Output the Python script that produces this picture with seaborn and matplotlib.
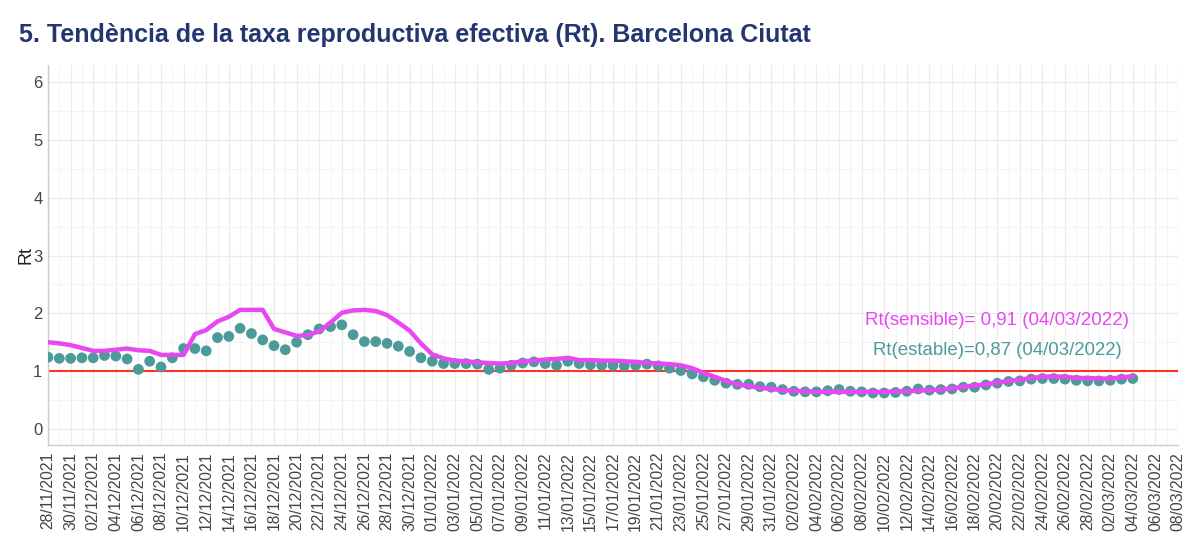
import numpy as np
import pandas as pd
import matplotlib
matplotlib.use("Agg")
import matplotlib.pyplot as plt
import matplotlib.dates as mdates
import seaborn as sns

start_date = "2021-11-28"
rt_estable = [1.24, 1.22, 1.22, 1.23, 1.23, 1.27, 1.26, 1.21, 1.03, 1.17,
              1.07, 1.23, 1.39, 1.39, 1.35, 1.58, 1.60, 1.74, 1.65, 1.54,
              1.44, 1.37, 1.50, 1.63, 1.73, 1.77, 1.80, 1.63, 1.51, 1.51,
              1.48, 1.43, 1.34, 1.23, 1.17, 1.13, 1.13, 1.13, 1.12, 1.03,
              1.05, 1.10, 1.14, 1.16, 1.13, 1.10, 1.17, 1.13, 1.11, 1.10,
              1.10, 1.09, 1.10, 1.12, 1.09, 1.05, 1.01, 0.95, 0.90, 0.84,
              0.79, 0.77, 0.77, 0.73, 0.72, 0.68, 0.65, 0.64, 0.64, 0.66,
              0.68, 0.65, 0.64, 0.62, 0.62, 0.63, 0.65, 0.69, 0.67, 0.68,
              0.69, 0.72, 0.72, 0.76, 0.79, 0.82, 0.83, 0.86, 0.87, 0.87,
              0.86, 0.84, 0.83, 0.83, 0.84, 0.86, 0.87]
rt_sensible = [1.50, 1.48, 1.45, 1.40, 1.35, 1.35, 1.37, 1.39, 1.36, 1.35,
               1.28, 1.28, 1.28, 1.64, 1.71, 1.86, 1.94, 2.06, 2.06, 2.06,
               1.73, 1.67, 1.61, 1.62, 1.69, 1.84, 2.01, 2.05, 2.06, 2.04,
               1.97, 1.84, 1.70, 1.48, 1.29, 1.22, 1.18, 1.17, 1.15, 1.14,
               1.13, 1.14, 1.17, 1.18, 1.20, 1.21, 1.23, 1.19, 1.19, 1.18,
               1.18, 1.17, 1.16, 1.14, 1.13, 1.12, 1.10, 1.05, 0.97, 0.90,
               0.83, 0.77, 0.74, 0.71, 0.69, 0.67, 0.66, 0.65, 0.64, 0.64,
               0.64, 0.64, 0.64, 0.64, 0.64, 0.65, 0.65, 0.66, 0.67, 0.68,
               0.70, 0.73, 0.75, 0.77, 0.80, 0.83, 0.85, 0.88, 0.90, 0.91,
               0.90, 0.88, 0.88, 0.87, 0.87, 0.89, 0.91]
tick_dates = pd.date_range("2021-11-28", "2022-03-08", freq="2D")
title = "5. Tendència de la taxa reproductiva efectiva (Rt). Barcelona Ciutat"
label_sensible = "Rt(sensible)= 0,91 (04/03/2022)"
label_estable = "Rt(estable)=0,87 (04/03/2022)"

dates = pd.date_range(start_date, periods=len(rt_estable), freq="D")
df = pd.DataFrame({"fecha": dates, "estable": rt_estable, "sensible": rt_sensible})

sns.set_theme(style="white")
plt.rcParams["font.family"] = ["Liberation Sans", "DejaVu Sans"]

fig = plt.figure(figsize=(12, 5.42), dpi=100)
ax = fig.add_axes([0.04, 0.179, 0.9417, 0.701])

teal = "#4d9a9a"
magenta = "#e848f2"

ax.axhline(1, color="#ff3322", lw=1.5, zorder=2)
sns.scatterplot(data=df, x="fecha", y="estable", ax=ax, color=teal, s=60,
                edgecolor="none", zorder=3)
sns.lineplot(data=df, x="fecha", y="sensible", ax=ax, color=magenta, lw=3.2,
             zorder=4)

ax.set_yticks(range(0, 7))
ax.set_yticks(np.arange(0.5, 6.5, 1.0), minor=True)
ax.set_xticks(tick_dates)
ax.xaxis.set_minor_locator(mdates.DayLocator())
ax.xaxis.set_major_formatter(mdates.DateFormatter("%d/%m/%Y"))
ax.set_xlim(pd.Timestamp("2021-11-28"), pd.Timestamp("2022-03-08"))
ax.set_ylim(-0.28, 6.30)
ax.tick_params(axis="x", rotation=90, labelsize=11.3, labelcolor="#444444",
               length=3, color="#bbbbbb", pad=2)
ax.tick_params(axis="y", labelsize=12, labelcolor="#444444", length=3,
               color="#bbbbbb", pad=1)
ax.tick_params(which="minor", length=0)
ax.grid(True, which="major", color="#ebebeb", lw=0.9)
ax.grid(True, which="minor", color="#f3f3f3", lw=0.8)
ax.set_axisbelow(True)

for side in ["top", "right"]:
    ax.spines[side].set_visible(False)
for side in ["left", "bottom"]:
    ax.spines[side].set_color("#cccccc")
    ax.spines[side].set_linewidth(1)

ax.set_xlabel("")
ax.set_ylabel("Rt", fontsize=13, color="#222222")
ax.yaxis.set_label_coords(-0.012, 0.5)

ax.text(pd.Timestamp("2022-02-20"), 1.87, label_sensible, color=magenta,
        fontsize=13.5, ha="center", va="center")
ax.text(pd.Timestamp("2022-02-20"), 1.35, label_estable, color=teal,
        fontsize=13.4, ha="center", va="center")

fig.text(0.016, 0.936, title, fontsize=18, fontweight="bold", color="#233670",
         ha="left", va="center")

fig.savefig("out.png", dpi=100, facecolor="white")
